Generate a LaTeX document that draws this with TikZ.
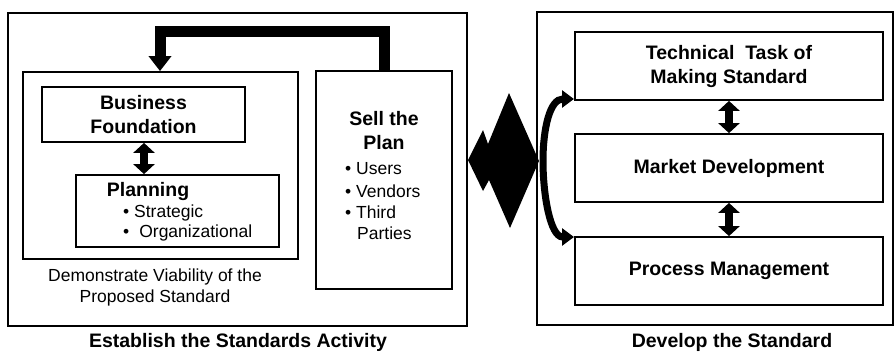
\documentclass[tikz,border=0pt]{standalone}
\usepackage{fontspec}
\setmainfont{Liberation Sans}
\usetikzlibrary{arrows.meta}
\begin{document}
\begin{tikzpicture}[x=1pt,y=-1pt,
  box/.style={draw, line width=1.8pt, rectangle, inner sep=0pt},
  hd/.style={font=\fontsize{19.5}{24}\selectfont\bfseries, align=center, inner sep=0pt},
  tx/.style={font=\fontsize{17.5}{21}\selectfont, inner sep=0pt},
  dbl/.style={line width=8pt, {Triangle[width=21pt,length=10pt]}-{Triangle[width=21pt,length=10pt]}},
  fb/.style={line width=11pt, line join=miter, -{Triangle[width=22pt,length=15pt]}},
  brk/.style={line width=7pt, {Triangle[width=17pt,length=12pt]}-{Triangle[width=17pt,length=12pt]}}]
\useasboundingbox (0,0) rectangle (895,354);
% left side
\node[box, minimum width=459pt, minimum height=313pt] (lo) at (237.5,169.5) {};
\node[box, minimum width=275pt, minimum height=187pt] (demo) at (160.5,165.5) {};
\node[box, minimum width=203pt, minimum height=55pt, hd] (bf) at (143.5,114.5) {Business\\Foundation};
\node[box, minimum width=203pt, minimum height=72pt] (plan) at (177.5,211) {};
\node[hd] (plant) at (148,191) {Planning};
\node[tx, anchor=west] (s1) at (123,213) {\textbullet\ Strategic};
\node[tx, anchor=west] (s2) at (123,233) {\textbullet\hspace{10pt}Organizational};
\node[tx, align=center, font=\fontsize{17.5}{21}\selectfont] (demot) at (155,287) {Demonstrate Viability of the\\Proposed Standard};
\node[box, minimum width=136pt, minimum height=218pt] (sell) at (384,180) {};
\node[hd] (sellt) at (384,131) {Sell the\\Plan};
\node[tx, anchor=west] (u1) at (345,169) {\textbullet\ Users};
\node[tx, anchor=west] (u2) at (345,191) {\textbullet\ Vendors};
\node[tx, anchor=west] (u3) at (345,212) {\textbullet\ Third};
\node[tx, anchor=west] (u4) at (357,233) {Parties};
\node[hd] (cap1) at (238,342) {Establish the Standards Activity};
% right side
\node[box, minimum width=356pt, minimum height=313pt] (ro) at (715,168.5) {};
\node[box, minimum width=308pt, minimum height=68pt, hd] (tech) at (729,66) {Technical \ Task of\\Making Standard};
\node[box, minimum width=308pt, minimum height=68pt, hd] (mkt) at (729,168) {Market Development};
\node[box, minimum width=308pt, minimum height=68pt, hd] (proc) at (729,271) {Process Management};
\node[hd] (cap2) at (732,342) {Develop the Standard};
% connectors
\draw[dbl] (bf.south -| 144,0) -- (plan.north -| 144,0);
\draw[dbl] (tech.south) -- (mkt.north);
\draw[dbl] (mkt.south) -- (proc.north);
\coordinate (fbx) at (160,0);
\draw[fb] (sell.north) -- (384,31) -- (160,31) -- (fbx |- demo.north);
% big diamond arrow
\coordinate (dL) at (468,160);
\coordinate (dR) at (539,161);
\fill (dL) -- (483,130) -- (488,144) -- (509,93) -- (dR) -- (510,228) -- (489,180) -- (483,191) -- cycle;
% bracket arrow
\coordinate (bt) at (574,99);
\coordinate (bb) at (574,237);
\draw[brk] (bt) .. controls (550,99) and (543,128) .. (543,161)
  .. controls (543,194) and (550,237) .. (bb);
\end{tikzpicture}
\end{document}
